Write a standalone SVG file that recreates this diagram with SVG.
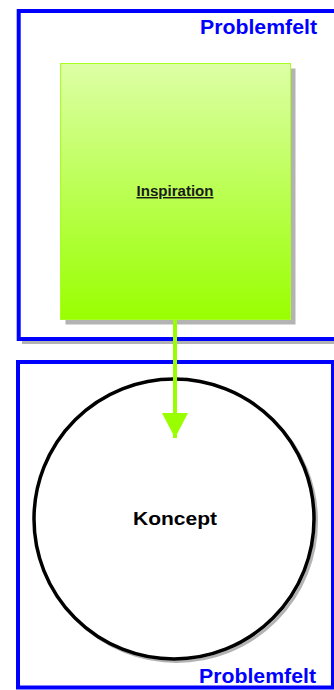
<svg xmlns="http://www.w3.org/2000/svg" width="334" height="690" viewBox="0 0 334 690">
<defs>
<linearGradient id="g" x1="0" y1="0" x2="0" y2="1">
<stop offset="0" stop-color="#ddffa6"/>
<stop offset="1" stop-color="#99ff00"/>
</linearGradient>
<marker id="ah" markerUnits="userSpaceOnUse" markerWidth="26" markerHeight="26" viewBox="0 0 26 26" refX="25" refY="13" orient="auto">
<path d="M0,0 L25,13 L0,26 Z" fill="#99ff00"/>
</marker>
<style>
.frame{fill:none;stroke:#0000ff;stroke-width:4}
.fshadow{fill:none;stroke:#b3b3b3;stroke-width:3}
.lbl{font-family:"Liberation Sans",Arial,sans-serif;font-weight:bold;fill:#0000ff;font-size:19.5px}
.txt{font-family:"Liberation Sans",Arial,sans-serif;font-weight:bold;text-anchor:middle}
</style>
</defs>
<rect width="334" height="690" fill="#ffffff"/>
<g id="frame-top">
<line x1="22" y1="342.5" x2="334" y2="342.5" class="fshadow"/>
<rect x="18.7" y="11" width="330" height="328" class="frame"/>
<text x="200" y="33.5" class="lbl" textLength="117" lengthAdjust="spacingAndGlyphs">Problemfelt</text>
</g>
<g id="frame-bottom">
<rect x="18" y="362" width="315" height="325.5" fill="#ffffff" class="frame"/>
<text x="199" y="683" class="lbl" textLength="117" lengthAdjust="spacingAndGlyphs">Problemfelt</text>
</g>
<g id="inspiration">
<rect x="65.5" y="68.5" width="230" height="256" fill="#b3b3b3"/>
<rect x="60.5" y="63.5" width="230" height="256" fill="url(#g)" stroke="#aaff22" stroke-width="1"/>
<text x="175" y="196" class="txt" font-size="14.5" fill="#1a1a1a" text-decoration="underline" textLength="77" lengthAdjust="spacingAndGlyphs">Inspiration</text>
</g>
<g id="koncept">
<circle cx="176.5" cy="521.5" r="140" fill="none" stroke="#b3b3b3" stroke-width="3"/>
<circle cx="174" cy="519" r="140" fill="#ffffff" stroke="#000000" stroke-width="3.5"/>
<text x="175" y="525" class="txt" font-size="19" fill="#000000" textLength="84" lengthAdjust="spacingAndGlyphs">Koncept</text>
</g>
<g id="connectors">
<line x1="175" y1="320" x2="175" y2="438" stroke="#99ff00" stroke-width="4" marker-end="url(#ah)"/>
</g>
</svg>
